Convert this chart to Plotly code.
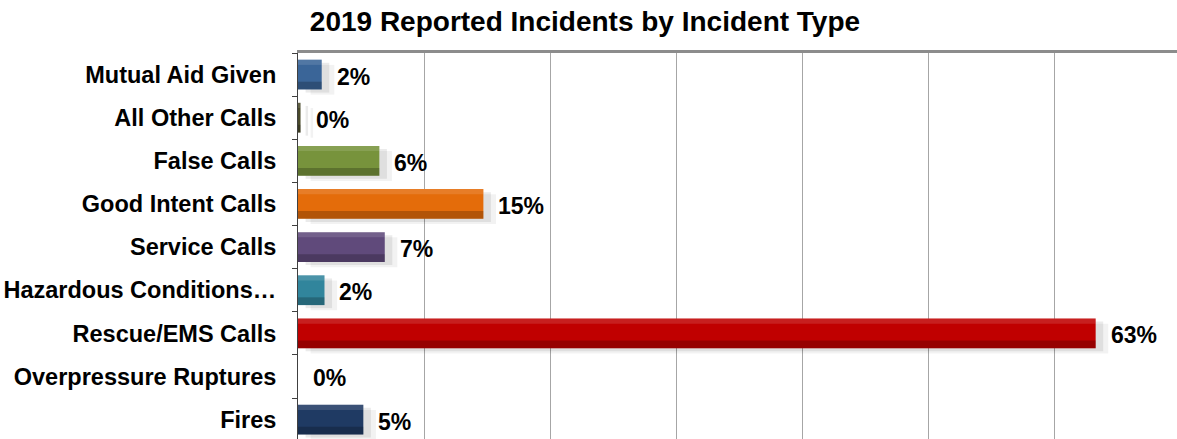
import plotly.graph_objects as go

# Incident types, listed bottom to top
categories = [
    "Fires",
    "Overpressure Ruptures",
    "Rescue/EMS Calls",
    "Hazardous Conditions…",
    "Service Calls",
    "Good Intent Calls",
    "False Calls",
    "All Other Calls",
    "Mutual Aid Given",
]
# Share of all reported incidents
shares = [0.0518, 0.0, 0.6325, 0.021, 0.0688, 0.147, 0.0645, 0.002, 0.0188]
bar_colors = [
    "#1F3A63",
    "#5B7FA8",
    "#C00000",
    "#31859C",
    "#604A7B",
    "#E46C0A",
    "#77933C",
    "#4A4A2A",
    "#3A6598",
]

FONT = "Arial, 'Liberation Sans', sans-serif"
BAR_W = 0.69

fig = go.Figure()

# soft drop shadow behind each bar (shifted right and down)
for spread, alpha in [(0.010, 0.05), (0.006, 0.08)]:
    fig.add_trace(go.Bar(
        y=categories, x=shares, base=spread, orientation="h",
        width=BAR_W, offset=-BAR_W / 2 - spread * 12,
        marker=dict(color=f"rgba(0,0,0,{alpha})", line=dict(width=0)),
        hoverinfo="skip", showlegend=False,
    ))

# main bars
fig.add_trace(go.Bar(
    y=categories, x=shares, orientation="h",
    width=BAR_W, offset=-BAR_W / 2,
    marker=dict(color=bar_colors, line=dict(width=0)),
    showlegend=False,
))

# darker lower band for a bevelled look
fig.add_trace(go.Bar(
    y=categories, x=shares, orientation="h",
    width=0.18, offset=-BAR_W / 2,
    marker=dict(color="rgba(0,0,0,0.22)", line=dict(width=0)),
    hoverinfo="skip", showlegend=False,
))
# lighter upper band
fig.add_trace(go.Bar(
    y=categories, x=shares, orientation="h",
    width=0.12, offset=BAR_W / 2 - 0.12,
    marker=dict(color="rgba(255,255,255,0.12)", line=dict(width=0)),
    hoverinfo="skip", showlegend=False,
))

# value labels right of each bar
for cat, val in zip(categories, shares):
    fig.add_annotation(
        x=val, y=cat, xref="x", yref="y",
        text=f"<b>{val:.0%}</b>", showarrow=False,
        xanchor="left", yanchor="middle", xshift=13, yshift=-2,
        font=dict(family=FONT, size=23, color="#000000"),
    )

fig.update_layout(
    width=1177, height=439,
    margin=dict(l=298, r=0, t=53, b=0),
    paper_bgcolor="white", plot_bgcolor="white",
    barmode="overlay",
    title=dict(
        text="<b>2019 Reported Incidents by Incident Type</b>",
        x=0.497, xref="container", xanchor="center",
        y=0.952, yref="container", yanchor="middle",
        font=dict(family=FONT, size=28, color="#000000"),
    ),
    xaxis=dict(
        range=[0, 0.697], side="top",
        showticklabels=False, ticks="",
        showgrid=True, gridcolor="#A6A6A6", gridwidth=1, dtick=0.1,
        showline=True, linecolor="#8C8C8C", linewidth=3,
        zeroline=False, fixedrange=True,
    ),
    yaxis=dict(
        type="category", categoryorder="array", categoryarray=categories,
        range=[-0.45, 8.5],
        tickson="boundaries", ticks="outside", ticklen=5, tickcolor="#404040",
        showline=True, linecolor="#404040", linewidth=1,
        showgrid=False,
        tickfont=dict(family=FONT, size=23.5, color="#000000"),
        ticklabelstandoff=16,
        tickprefix="<b>", ticksuffix="</b>",
        fixedrange=True,
    ),
    font=dict(family=FONT),
)

fig.write_html("out.html")
